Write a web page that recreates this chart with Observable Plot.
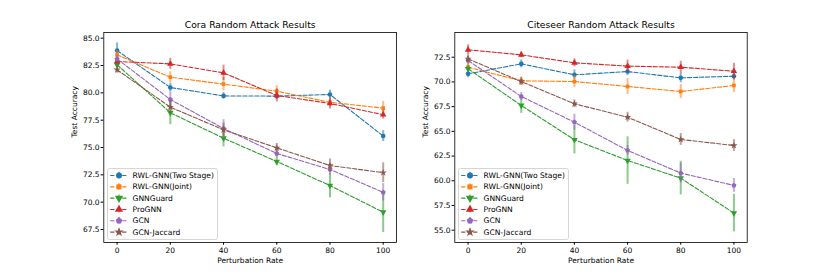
<!DOCTYPE html>
<html><head><meta charset="utf-8">
<script src="https://cdn.jsdelivr.net/npm/d3@7"></script>
<script src="https://cdn.jsdelivr.net/npm/@observablehq/plot@0.6"></script>
<style>
html,body{margin:0;padding:0;background:#fff;}
#wrap{position:relative;width:830px;height:277px;overflow:hidden;font-family:"DejaVu Sans",sans-serif;}
</style></head><body><div id="wrap"></div>
<script>
// ---------- data ----------
const rates = [0, 20, 40, 60, 80, 100];
const methods = ["RWL-GNN(Two Stage)", "RWL-GNN(Joint)", "GNNGuard", "ProGNN", "GCN", "GCN-Jaccard"];
const colors = ["#1f77b4", "#ff7f0e", "#2ca02c", "#d62728", "#9467bd", "#8c564b"];

// Cora
const coraTwoStage    = [83.87, 80.49, 79.72, 79.70, 79.85, 76.05];
const coraTwoStageErr = [0.70, 0.40, 0.30, 0.30, 0.40, 0.50];
const coraJoint       = [83.48, 81.43, 80.80, 80.15, 79.14, 78.60];
const coraJointErr    = [0.40, 0.50, 0.60, 0.50, 0.40, 0.60];
const coraGNNGuard    = [82.57, 78.18, 75.85, 73.72, 71.52, 69.08];
const coraGNNGuardErr = [0.30, 1.10, 0.80, 0.40, 1.13, 1.86];
const coraProGNN      = [82.87, 82.65, 81.83, 79.76, 79.03, 78.00];
const coraProGNNErr   = [0.30, 0.50, 0.70, 0.60, 0.50, 0.40];
const coraGCN         = [83.10, 79.39, 76.74, 74.45, 72.99, 70.90];
const coraGCNErr      = [0.30, 0.70, 0.80, 0.40, 0.50, 0.80];
const coraJaccard     = [82.11, 78.69, 76.62, 74.97, 73.35, 72.70];
const coraJaccardErr  = [0.30, 0.60, 0.60, 0.40, 0.60, 0.90];

// Citeseer
const citeTwoStage    = [70.82, 71.83, 70.72, 71.05, 70.41, 70.58];
const citeTwoStageErr = [0.40, 0.40, 0.50, 0.40, 0.50, 0.40];
const citeJoint       = [71.49, 70.11, 70.04, 69.54, 69.03, 69.64];
const citeJointErr    = [0.50, 0.40, 0.60, 0.80, 0.70, 0.70];
const citeGNNGuard    = [71.33, 67.62, 64.15, 62.05, 60.27, 56.73];
const citeGNNGuardErr = [0.40, 0.80, 1.43, 2.40, 1.70, 1.90];
const citeProGNN      = [73.25, 72.74, 71.93, 71.60, 71.49, 71.08];
const citeProGNNErr   = [0.50, 0.30, 0.40, 0.60, 0.60, 0.80];
const citeGCN         = [72.17, 68.53, 65.93, 63.07, 60.78, 59.53];
const citeGCNErr      = [0.40, 0.40, 0.80, 0.50, 1.00, 0.70];
const citeJaccard     = [72.33, 70.04, 67.79, 66.43, 64.18, 63.57];
const citeJaccardErr  = [0.40, 0.40, 0.40, 0.50, 0.60, 0.60];

const coraYTicks = [67.5, 70.0, 72.5, 75.0, 77.5, 80.0, 82.5, 85.0];
const citeYTicks = [55.0, 57.5, 60.0, 62.5, 65.0, 67.5, 70.0, 72.5];

// ---------- symbols ----------
const sqrt3 = Math.sqrt(3);
const triangleDown = {
  draw(ctx, size) {
    const y = -Math.sqrt(size / (sqrt3 * 3));
    ctx.moveTo(0, -y * 2);
    ctx.lineTo(-sqrt3 * y, y);
    ctx.lineTo(sqrt3 * y, y);
    ctx.closePath();
  }
};
const triangleUp = {
  draw(ctx, size) {
    const y = -Math.sqrt(size / (sqrt3 * 3));
    ctx.moveTo(0, y * 2);
    ctx.lineTo(-sqrt3 * y, -y);
    ctx.lineTo(sqrt3 * y, -y);
    ctx.closePath();
  }
};
const pentagon = {
  draw(ctx, size) {
    const R = Math.sqrt(size / (2.5 * Math.sin(72 * Math.PI / 180)));
    for (let k = 0; k < 5; k++) {
      const a = (-90 + 72 * k) * Math.PI / 180;
      const px = R * Math.cos(a), py = R * Math.sin(a);
      if (k === 0) ctx.moveTo(px, py); else ctx.lineTo(px, py);
    }
    ctx.closePath();
  }
};
const symbols = ["circle", "square", triangleDown, triangleUp, pentagon, "star"];
const symbolR = [2.3, 2.1, 2.4, 2.4, 2.3, 2.3];

function rows(vals, errs) {
  return rates.map((x, i) => ({x, y: vals[i], e: errs[i]}));
}

const coraSeries = [
  rows(coraTwoStage, coraTwoStageErr), rows(coraJoint, coraJointErr),
  rows(coraGNNGuard, coraGNNGuardErr), rows(coraProGNN, coraProGNNErr),
  rows(coraGCN, coraGCNErr), rows(coraJaccard, coraJaccardErr)
];
const citeSeries = [
  rows(citeTwoStage, citeTwoStageErr), rows(citeJoint, citeJointErr),
  rows(citeGNNGuard, citeGNNGuardErr), rows(citeProGNN, citeProGNNErr),
  rows(citeGCN, citeGCNErr), rows(citeJaccard, citeJaccardErr)
];

const wrap = document.getElementById("wrap");
const fontStyle = {fontFamily: "'DejaVu Sans', sans-serif", fontSize: "7.5px", color: "black", background: "transparent", overflow: "visible"};
const dash = "4.2,1.8";

function chart({series, yDomain, yTicks, title, left, mLeft, mRight}) {
  const W = 415, H = 277;
  const marks = [];
  series.forEach((data, i) => {
    marks.push(Plot.ruleX(data, {x: "x", y1: d => d.y - d.e, y2: d => d.y + d.e,
      stroke: colors[i], strokeWidth: 2, strokeOpacity: 0.55}));
    marks.push(Plot.line(data, {x: "x", y: "y", stroke: colors[i], strokeWidth: 1.1,
      strokeDasharray: dash}));
    marks.push(Plot.dot(data, {x: "x", y: "y", fill: colors[i], stroke: "none",
      symbol: () => symbols[i], r: symbolR[i]}));
  });
  const svg = Plot.plot({
    width: W, height: H,
    marginLeft: mLeft, marginRight: mRight, marginTop: 32, marginBottom: 35,
    style: fontStyle,
    x: {domain: [-5, 105]},
    y: {domain: yDomain},
    symbol: {type: "identity"},
    marks: [
      ...marks,
      Plot.frame({stroke: "black", strokeWidth: 0.8}),
      Plot.axisX({ticks: rates, tickSize: 2.7, tickPadding: 2.3, label: null}),
      Plot.axisY({ticks: yTicks, tickFormat: d3.format(".1f"), tickSize: 2.7, tickPadding: 1.5, label: null}),
      Plot.text([title], {text: d => d, frameAnchor: "top", dy: -7, fontSize: 9.2, lineAnchor: "middle"}),
      Plot.text(["Perturbation Rate"], {text: d => d, frameAnchor: "bottom", dy: 18, lineAnchor: "middle"}),
      Plot.text(["Test Accuracy"], {text: d => d, frameAnchor: "left", dx: -29, rotate: -90, lineAnchor: "middle"})
    ]
  });
  svg.style.position = "absolute";
  svg.style.left = left + "px";
  svg.style.top = "0px";
  wrap.appendChild(svg);

  // legend overlay
  const LW = 110, LH = 71, step = 11.33, top0 = 7;
  const idx = methods.map((m, i) => i);
  const leg = Plot.plot({
    width: LW, height: LH, margin: 0,
    axis: null,
    style: {...fontStyle, fontSize: "7.6px"},
    x: {type: "identity", axis: null}, y: {type: "identity", axis: null},
    symbol: {type: "identity"},
    marks: [
      Plot.frame({stroke: "#cccccc", strokeWidth: 0.8, fill: "white", fillOpacity: 0.8, rx: 2}),
      Plot.ruleX(idx, {x: 11.5, y1: i => top0 + i * step - 3.2, y2: i => top0 + i * step + 3.2,
        stroke: i => colors[i], strokeWidth: 2, strokeOpacity: 0.55}),
      Plot.link(idx, {x1: 2.7, x2: 20, y1: i => top0 + i * step, y2: i => top0 + i * step,
        stroke: i => colors[i], strokeWidth: 1.1, strokeDasharray: dash}),
      Plot.dot(idx, {x: 11.5, y: i => top0 + i * step, fill: i => colors[i], stroke: "none",
        symbol: i => symbols[i], r: i => symbolR[i]}),
      Plot.text(idx, {x: 25, y: i => top0 + i * step, text: i => methods[i], textAnchor: "start",
        lineAnchor: "middle", fill: "black"})
    ]
  });
  leg.style.position = "absolute";
  leg.style.left = (left + mLeft + 4) + "px";
  leg.style.top = "167.7px";
  wrap.appendChild(leg);
}

chart({series: coraSeries, yDomain: [66.31, 85.52], yTicks: coraYTicks,
  title: "Cora Random Attack Results", left: 0, mLeft: 103.3, mRight: 19});
chart({series: citeSeries, yDomain: [53.756, 75.0], yTicks: citeYTicks,
  title: "Citeseer Random Attack Results", left: 415, mLeft: 39.3, mRight: 83.3});
</script></body></html>
